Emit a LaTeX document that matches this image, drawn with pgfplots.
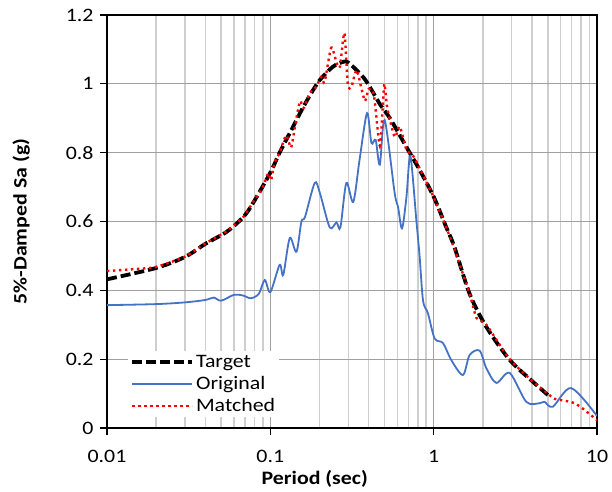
\documentclass[border=0pt]{standalone}
\usepackage{fontspec}
\setmainfont[FakeStretch=1.15]{Carlito}
\usepackage{pgfplots}
\pgfplotsset{compat=1.18}
\definecolor{origblue}{HTML}{4472C4}
\definecolor{majgrid}{HTML}{A0A0A0}
\definecolor{mingrid}{HTML}{CFCFCF}

\begin{document}
\begin{tikzpicture}
\begin{axis}[
  scale only axis, width=490pt, height=413pt,
  xmode=log, xmin=0.01, xmax=10, ymin=0, ymax=1.2,
  xtick={0.01,0.1,1,10}, xticklabels={0.01,0.1,1,10},
  ytick={0,0.2,0.4,0.6,0.8,1,1.2}, yticklabels={0,0.2,0.4,0.6,0.8,1,1.2},
  ticklabel style={font=\fontsize{19}{22}\selectfont},
  xticklabel style={yshift=-12pt},
  yticklabel style={xshift=-3pt},
  xmajorgrids, xminorgrids, ymajorgrids,
  major grid style={majgrid, line width=1.3pt},
  minor grid style={mingrid, line width=1.4pt},
  tick align=outside, tick pos=left,
  major tick length=7pt, minor tick length=0pt,
  tick style={black, line width=1.2pt},
  axis line style={black, line width=2pt},
  xlabel={\bfseries Period (sec)},
  ylabel={\bfseries 5\%-Damped Sa (g)},
  every axis x label/.style={at={(axis description cs:0.424,-0.122)}, anchor=center,
    font=\fontsize{19}{22}\selectfont},
  every axis y label/.style={at={(axis description cs:-0.175,0.5)}, rotate=90, anchor=center,
    font=\fontsize{19}{22}\selectfont},
  legend style={at={(axis description cs:0.043,0.186)}, anchor=north west,
    draw=none, fill=white, font=\fontsize{19}{22}\selectfont,
    row sep=3.5pt, inner sep=2pt},
  legend cell align=left,
  legend image code/.code={\draw[#1] (0pt,0pt) -- (60pt,0pt);},
]
\addplot[black, line width=3.8pt, dash pattern=on 10pt off 4pt, smooth] coordinates {
(0.01,0.432) (0.02,0.465) (0.03,0.497) (0.04,0.535) (0.054,0.57) (0.068,0.612)
(0.078,0.652) (0.1,0.742) (0.114,0.80) (0.138,0.876) (0.152,0.915) (0.174,0.965)
(0.2,1.01) (0.242,1.05) (0.28,1.064) (0.3,1.062) (0.353,1.03) (0.39,1.005)
(0.47,0.94) (0.54,0.90) (0.68,0.817) (0.82,0.75) (1.0,0.672) (1.19,0.585)
(1.34,0.526) (1.66,0.39) (2.1,0.294) (2.92,0.198) (4.06,0.134) (5.0,0.096)
};
\addlegendentry{Target}
\addplot[origblue, line width=1.8pt, smooth, tension=0.5] coordinates {
(0.01,0.357) (0.02,0.360) (0.03,0.365) (0.04,0.372) (0.045,0.379) (0.05,0.370)
(0.06,0.387) (0.068,0.385) (0.076,0.377) (0.085,0.39) (0.0925,0.43) (0.1,0.395)
(0.114,0.474) (0.12,0.445) (0.1315,0.552) (0.1445,0.512) (0.155,0.60) (0.163,0.613)
(0.187,0.712) (0.201,0.683) (0.231,0.583) (0.254,0.597) (0.2686,0.583) (0.292,0.712)
(0.322,0.657) (0.352,0.78) (0.391,0.915) (0.416,0.828) (0.4415,0.837) (0.468,0.765)
(0.501,0.895) (0.577,0.683) (0.605,0.643) (0.640,0.58) (0.681,0.67) (0.720,0.79)
(0.783,0.605) (0.82,0.50) (0.861,0.37) (0.923,0.333) (1.014,0.26) (1.14,0.247)
(1.28,0.198) (1.51,0.154) (1.66,0.212) (1.91,0.225) (2.10,0.174) (2.42,0.131)
(2.92,0.16) (3.69,0.076) (4.45,0.072) (4.77,0.076) (5.37,0.062) (6.95,0.116)
(10,0.035)
};
\addlegendentry{Original}
\addplot[red, line width=2.4pt, dash pattern=on 2.4pt off 3.6pt, smooth, tension=0.4] coordinates {
(0.01,0.456) (0.015,0.462) (0.02,0.468) (0.03,0.498) (0.04,0.536) (0.054,0.572)
(0.068,0.612) (0.078,0.655) (0.09,0.70) (0.097,0.74) (0.101,0.72) (0.106,0.77)
(0.114,0.80) (0.125,0.85) (0.134,0.815) (0.142,0.88) (0.152,0.95) (0.16,0.93)
(0.175,0.975) (0.19,0.99) (0.205,1.02) (0.215,1.005) (0.236,1.105) (0.255,1.06)
(0.267,1.05) (0.284,1.148) (0.298,1.0) (0.313,0.99) (0.337,1.04) (0.36,0.99)
(0.38,0.95) (0.40,0.985) (0.43,0.97) (0.468,0.82) (0.49,0.95) (0.50,1.0)
(0.52,0.93) (0.577,0.846) (0.62,0.876) (0.68,0.81) (0.75,0.79) (0.82,0.755)
(1.0,0.67) (1.2,0.58) (1.34,0.52) (1.66,0.39) (1.83,0.32) (2.1,0.30)
(2.92,0.2) (4.06,0.135) (5.0,0.10) (5.5,0.085) (7.0,0.075) (8.0,0.06) (10,0.023)
};
\addlegendentry{Matched}
\end{axis}
\path ([xshift=-107pt,yshift=-63pt]current axis.south west) rectangle ([xshift=15pt,yshift=15pt]current axis.north east);
\end{tikzpicture}
\end{document}
